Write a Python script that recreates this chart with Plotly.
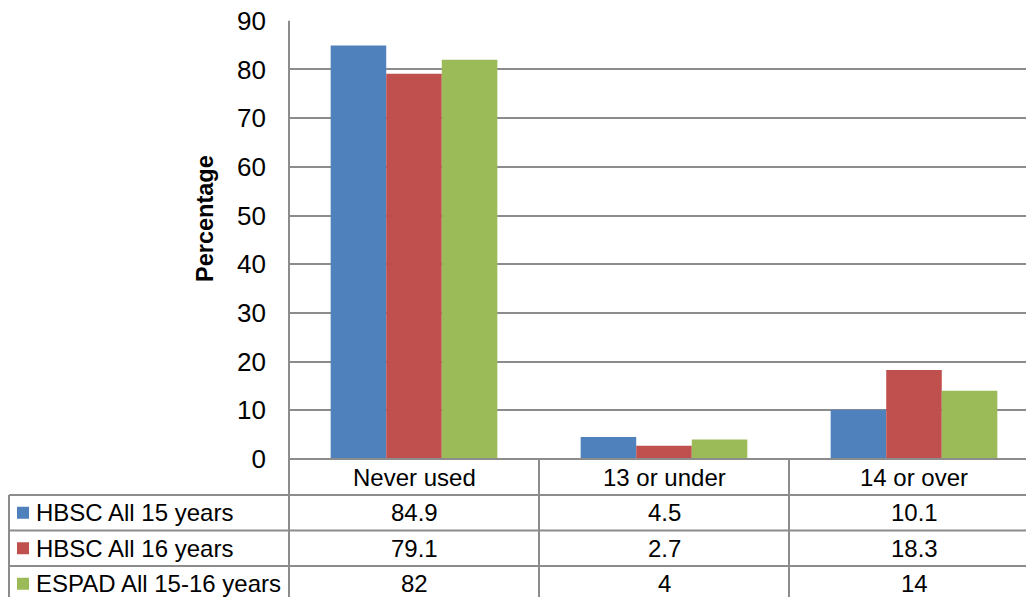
import plotly.graph_objects as go

# Age at first use, by survey
categories = ["Never used", "13 or under", "14 or over"]
series_names = ["HBSC All 15 years", "HBSC All 16 years", "ESPAD All 15-16 years"]
hbsc_15 = [84.9, 4.5, 10.1]
hbsc_16 = [79.1, 2.7, 18.3]
espad_15_16 = [82, 4, 14]
series_values = [hbsc_15, hbsc_16, espad_15_16]
colors = ["#4F81BD", "#C0504D", "#9BBB59"]
y_ticks = [0, 10, 20, 30, 40, 50, 60, 70, 80, 90]

W, H = 1026, 597
FONT = "Liberation Sans, Arial, sans-serif"
FS = 24
GRID = "#8c8c8c"


def px_x(x):
    return x / W


def px_y(y):
    return 1 - y / H


plot_left, plot_top, plot_bottom = 289, 20.7, 459
cat_w = 250.0
x_hi = (W - plot_left) / cat_w - 0.5

fig = go.Figure()
for name, vals, col in zip(series_names, series_values, colors):
    fig.add_bar(x=categories, y=vals, name=name, marker_color=col,
                marker_line_width=0)

# data table geometry
row_lines = [495, 530.5, 566, 601.5]
row_centers = [(row_lines[i] + row_lines[i + 1]) / 2 for i in range(3)]
table_left = 9

shapes = []
line = dict(color=GRID, width=2)
# axis / table header line
shapes.append(dict(type="line", xref="paper", yref="paper",
                   x0=px_x(plot_left), x1=1, y0=px_y(plot_bottom), y1=px_y(plot_bottom), line=line))
for ry in row_lines[:3]:
    shapes.append(dict(type="line", xref="paper", yref="paper",
                       x0=px_x(table_left), x1=1, y0=px_y(ry), y1=px_y(ry), line=line))
shapes.append(dict(type="line", xref="paper", yref="paper",
                   x0=px_x(table_left), x1=px_x(table_left), y0=px_y(row_lines[0]), y1=0, line=line))
shapes.append(dict(type="line", xref="paper", yref="paper",
                   x0=px_x(plot_left), x1=px_x(plot_left), y0=px_y(plot_top), y1=0, line=line))
for i in range(len(categories) - 1):
    shapes.append(dict(type="line", xref="x", yref="paper",
                       x0=i + 0.5, x1=i + 0.5, y0=px_y(plot_bottom), y1=0, line=line))

annotations = []
# category header row
for i, c in enumerate(categories):
    annotations.append(dict(x=i, xref="x", y=px_y((plot_bottom + row_lines[0]) / 2), yref="paper",
                            text=c, showarrow=False, font=dict(family=FONT, size=FS, color="black"),
                            xanchor="center", yanchor="middle"))
# series rows
for r, (name, vals, col) in enumerate(zip(series_names, series_values, colors)):
    cy = row_centers[r]
    shapes.append(dict(type="rect", xref="paper", yref="paper",
                       x0=px_x(17), x1=px_x(29), y0=px_y(cy - 6), y1=px_y(cy + 6),
                       fillcolor=col, line=dict(width=0)))
    annotations.append(dict(x=px_x(34), xref="paper", y=px_y(cy), yref="paper",
                            text=name, showarrow=False, font=dict(family=FONT, size=FS, color="black"),
                            xanchor="left", yanchor="middle"))
    for i, v in enumerate(vals):
        annotations.append(dict(x=i, xref="x", y=px_y(cy), yref="paper",
                                text=f"{v:g}", showarrow=False,
                                font=dict(family=FONT, size=FS, color="black"),
                                xanchor="center", yanchor="middle"))

# axis title
annotations.append(dict(x=px_x(205), xref="paper", y=px_y(219), yref="paper",
                        text="<b>Percentage</b>", textangle=-90, showarrow=False,
                        font=dict(family=FONT, size=FS - 0.5, color="black"),
                        xanchor="center", yanchor="middle"))

fig.update_layout(
    width=W, height=H,
    margin=dict(l=0, r=0, t=0, b=0, autoexpand=False),
    paper_bgcolor="white", plot_bgcolor="white",
    showlegend=False,
    barmode="group", bargap=1.5 / 4.5, bargroupgap=0,
    xaxis=dict(domain=[px_x(plot_left), 1], range=[-0.5, x_hi],
               showticklabels=False, showgrid=False, zeroline=False, showline=False),
    yaxis=dict(domain=[px_y(plot_bottom), px_y(plot_top)], range=[0, 90],
               tickvals=y_ticks, ticktext=[str(t) for t in y_ticks],
               showgrid=True, gridcolor=GRID, gridwidth=1.5,
               zeroline=False, showline=False, ticks="",
               ticklabelstandoff=22,
               tickfont=dict(family=FONT, size=26, color="black")),
    shapes=shapes,
    annotations=annotations,
)

fig.write_html("out.html")
